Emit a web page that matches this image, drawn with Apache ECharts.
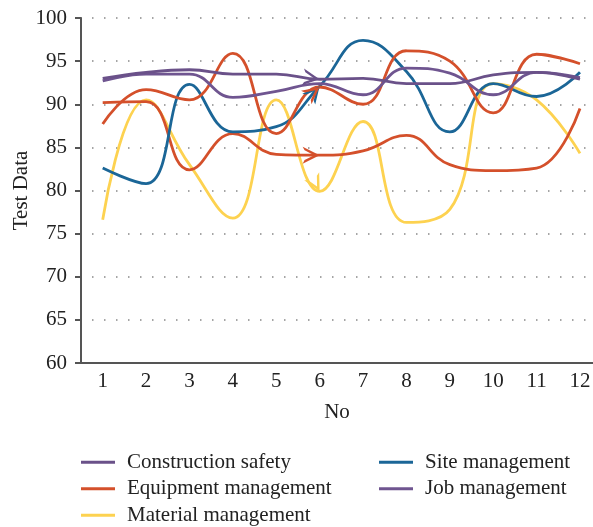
<!DOCTYPE html>
<html>
<head>
<meta charset="utf-8">
<script src="https://cdn.jsdelivr.net/npm/echarts@6/dist/echarts.min.js"></script>
<style>
  html, body { margin: 0; padding: 0; background: #fff; }
  #chart { width: 593px; height: 527px; }
</style>
</head>
<body>
<div id="chart"></div>
<script>
const xValues = [1, 2, 3, 4, 5, 6, 7, 8, 9, 10, 11, 12]
const yTicks = [60, 65, 70, 75, 80, 85, 90, 95, 100]

const constructionSafety = [93.0, 93.7, 94.0, 93.5, 93.5, 92.9, 93.0, 92.4, 92.4, 93.4, 93.7, 92.9]
const equipmentA = [87.7, 91.7, 90.5, 95.9, 86.6, 92.0, 90.0, 96.2, 95.0, 89.0, 95.8, 94.7]
const equipmentB = [90.2, 90.3, 82.4, 86.6, 84.2, 84.1, 84.6, 86.4, 83.0, 82.3, 82.6, 89.5]
const materialMgmt = [76.6, 90.5, 83.0, 76.8, 90.5, 79.9, 88.0, 76.3, 77.8, 92.4, 90.5, 84.3]
const siteMgmt = [82.6, 80.8, 92.3, 86.8, 87.4, 92.1, 97.4, 93.8, 86.8, 92.4, 90.9, 93.7]
const jobMgmt = [92.7, 93.5, 93.5, 90.8, 91.5, 92.4, 91.1, 94.2, 93.6, 91.1, 93.7, 93.1]

const colors = {
  construction: "#6a5189",
  equipment: "#d4502b",
  material: "#fdd250",
  site: "#1b6697",
  job: "#6f5590",
}

const font = "Liberation Serif"
const fontSize = 21

// open chevron, tip in the middle of the box so it sits on the point
const chevron = "path://M0,0 L14,7 L0,14 L1.6,11 L9.5,7 L1.6,3 Z M28,6.9 L28,7.1 L27.9,7 Z"

const chart = echarts.init(document.getElementById("chart"))

function line(name, values, color, arrowAngle) {
  const s = {
    name: name,
    type: "line",
    smooth: 0.45,
    symbol: "none",
    data: xValues.map((x, i) => [x, values[i]]),
    lineStyle: { color: color, width: 2.8 },
    itemStyle: { color: color },
  }
  if (arrowAngle !== undefined) {
    s.markPoint = {
      symbol: chevron,
      symbolSize: [34, 17],
      symbolRotate: arrowAngle,
      label: { show: false },
      itemStyle: { color: color },
      data: [{ coord: [6, values[5]] }],
    }
  }
  return s
}

const legendBase = {
  orient: "vertical",
  top: 449,
  height: 90,
  padding: 0,
  itemWidth: 34,
  itemHeight: 3,
  itemGap: 0,
  icon: "rect",
  textStyle: { fontFamily: font, fontSize: fontSize, color: "#222", lineHeight: 26.5, padding: [0, 0, 0, 7] },
}

const option = {
  animation: false,
  grid: { left: 81, right: 0, top: 18, bottom: 164, outerBoundsMode: "none" },
  xAxis: {
    type: "value",
    min: 0.5,
    max: 12.3,
    name: "No",
    nameLocation: "middle",
    nameGap: 39,
    nameMoveOverlap: false,
    nameTextStyle: { fontFamily: font, fontSize: fontSize, color: "#222" },
    axisLine: { show: true, lineStyle: { color: "#555", width: 2 } },
    axisTick: { show: false },
    splitLine: { show: false },
    axisLabel: {
      customValues: xValues,
      fontFamily: font,
      fontSize: fontSize,
      color: "#222",
      margin: 8,
    },
  },
  yAxis: {
    type: "value",
    min: 60,
    max: 100,
    interval: 5,
    name: "Test Data",
    nameLocation: "middle",
    nameGap: 49,
    nameMoveOverlap: false,
    nameTextStyle: { fontFamily: font, fontSize: fontSize, color: "#222" },
    axisLine: { show: true, lineStyle: { color: "#555", width: 2 } },
    axisTick: { show: true, length: 6, lineStyle: { color: "#555", width: 2 } },
    axisLabel: {
      customValues: yTicks,
      fontFamily: font,
      fontSize: fontSize,
      color: "#222",
      margin: 14,
    },
    splitLine: {
      show: true,
      lineStyle: { color: "#888", width: 1.5, type: [1.5, 10.5], dashOffset: -11 },
    },
  },
  legend: [
    Object.assign({}, legendBase, {
      left: 81,
      data: ["Construction safety", "Equipment management", "Material management"],
    }),
    Object.assign({}, legendBase, {
      left: 379,
      data: ["Site management", "Job management"],
    }),
  ],
  series: [
    line("Material management", materialMgmt, colors.material, -62),
    line("Equipment management", equipmentB, colors.equipment, 0),
    line("Site management", siteMgmt, colors.site, 50),
    line("Equipment management", equipmentA, colors.equipment, 38),
    line("Job management", jobMgmt, colors.job),
    line("Construction safety", constructionSafety, colors.construction, -8),
  ],
}

chart.setOption(option)
</script>
</body>
</html>
